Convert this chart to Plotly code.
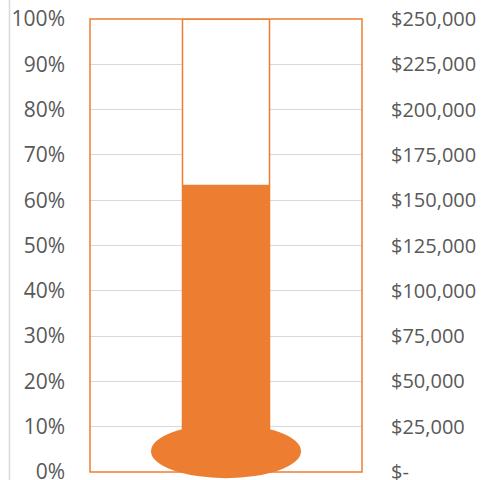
import plotly.graph_objects as go

# Data
category = ["Fundraising"]
goal = 250000
raised = 158500
pct_ticks = [i / 10 for i in range(11)]
pct_labels = [f"{i * 10}%" for i in range(11)]
dollar_ticks = list(range(0, 250001, 25000))
dollar_labels = ["$-"] + [f"${v:,}" for v in dollar_ticks[1:]]

orange = "#ED7D31"
grid = "#D9D9D9"
txt = "#595959"
font_family = "Open Sans"

fig = go.Figure()

# Thermometer tube (goal outline)
fig.add_trace(go.Bar(
    x=category, y=[goal / goal], width=0.32,
    marker=dict(color="white", line=dict(color=orange, width=1.5)),
    hoverinfo="skip", showlegend=False, yaxis="y",
))
# Filled amount
fig.add_trace(go.Bar(
    x=category, y=[raised / goal], width=0.32,
    marker=dict(color=orange, line=dict(color=orange, width=0)),
    hoverinfo="skip", showlegend=False, yaxis="y",
))
# Dollar axis carrier
fig.add_trace(go.Scatter(
    x=category, y=[raised], mode="markers", marker=dict(opacity=0),
    hoverinfo="skip", showlegend=False, yaxis="y2",
))

fig.update_layout(
    width=486, height=480,
    margin=dict(l=90, r=124, t=19, b=8, autoexpand=False),
    paper_bgcolor="white", plot_bgcolor="white",
    barmode="overlay",
    font=dict(family=font_family, size=21, color=txt),
    xaxis=dict(showticklabels=False, showgrid=False, zeroline=False,
               range=[-0.5, 0.5], fixedrange=True, automargin=False),
    yaxis=dict(range=[0, 1], tickvals=pct_ticks, ticktext=pct_labels,
               showgrid=True, gridcolor=grid, gridwidth=1, zeroline=False,
               ticklabelstandoff=24, showline=False, ticklabeloverflow="allow",
               automargin=False),
    yaxis2=dict(range=[0, goal], tickvals=dollar_ticks, ticktext=dollar_labels,
                overlaying="y", side="right", showgrid=False, zeroline=False,
                ticklabelstandoff=28, showline=False, ticklabeloverflow="allow",
                automargin=False, tickfont=dict(size=20)),
    shapes=[
        # plot area border
        dict(type="rect", xref="paper", yref="paper", x0=0, x1=1, y0=0, y1=1,
             line=dict(color=orange, width=1.5), layer="above"),
        # bulb
        dict(type="circle", xref="paper", yref="paper",
             xsizemode="pixel", ysizemode="pixel",
             xanchor=0.5, yanchor=0.046, x0=-75, x1=75, y0=-27, y1=27,
             fillcolor=orange, line=dict(color=orange, width=0), layer="above"),
        # chart area left border
        dict(type="line", xref="paper", yref="paper",
             x0=-0.296, x1=-0.296, y0=-0.03, y1=1.05,
             line=dict(color=grid, width=1.5)),
    ],
)

fig.write_html(
    "out.html",
    config={"displayModeBar": False},
    post_script="document.body.style.margin='0';document.body.style.overflow='hidden';",
)
